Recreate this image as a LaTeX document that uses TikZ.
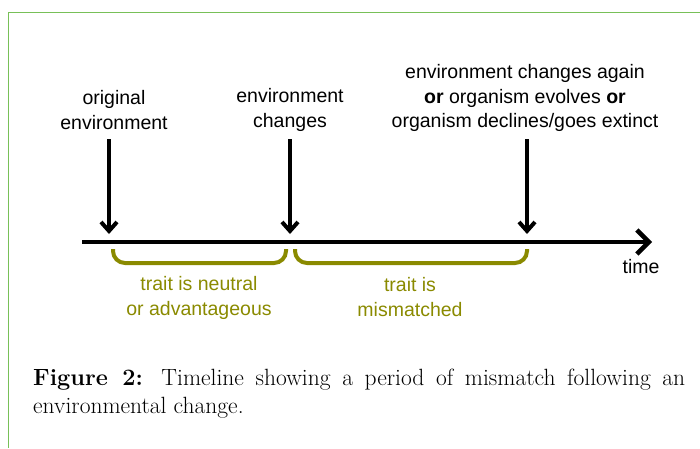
\documentclass[tikz,border=0pt]{standalone}
\usepackage{fontspec}
\usetikzlibrary{arrows.meta}
\newfontfamily\labelfont{Liberation Sans}
\definecolor{olivetrait}{RGB}{138,138,0}
\definecolor{framegreen}{RGB}{120,192,88}

\begin{document}
\begin{tikzpicture}[x=1pt,y=-1pt]
\tikzstyle{every node}+=[inner sep=0pt]
\tikzstyle{label}=[font=\labelfont\fontsize{19.5}{24.5}\selectfont, align=center]
\tikzstyle{traitlabel}=[label, text=olivetrait]
\tikzstyle{pointer}=[black, line width=4pt, -{Straight Barb[length=9pt,width=16pt]}]
\tikzstyle{timeline}=[black, line width=4.5pt, -{Straight Barb[length=12pt,width=24pt]}]
\tikzstyle{span}=[olivetrait, line width=4pt, rounded corners=12pt]
\useasboundingbox (0,0) rectangle (700,448);
\draw [framegreen, line width=1.6pt] (700,12.3) -| (8.3,448);
\node [label] (orig) at (114,110) {original\\environment};
\node [label] (chg) at (290,110) {environment\\changes};
\node [label] (again) at (525,98) {environment changes again\\\textbf{or} organism evolves \textbf{or}\\organism declines/goes extinct};
\coordinate (start) at (82,242);
\coordinate (end) at (652,242);
\coordinate (o1) at (109,139);
\coordinate (o2) at (109,234);
\coordinate (c1) at (290,139);
\coordinate (c2) at (290,234);
\coordinate (a1) at (527,139);
\coordinate (a2) at (527,234);
\draw [timeline] (start) -- (end);
\draw [pointer] (o1) -- (o2);
\draw [pointer] (c1) -- (c2);
\draw [pointer] (a1) -- (a2);
\node [label] (time) at (641,267) {time};
\draw [span] (113,249) -- (113,263) -- (286,263) -- (286,249);
\draw [span] (295,249) -- (295,263) -- (527,263) -- (527,249);
\node [traitlabel] (neutral) at (199,298) {trait is neutral\\or advantageous};
\node [traitlabel] (mismatch) at (410,297) {trait is\\mismatched};
\node [anchor=north west, text width=652pt, align=justify, font=\fontsize{23.5}{27.5}\selectfont] (caption) at (33,369)
  {\textbf{Figure 2:} Timeline showing a period of mismatch following an\linebreak environmental change.};
\end{tikzpicture}
\end{document}
